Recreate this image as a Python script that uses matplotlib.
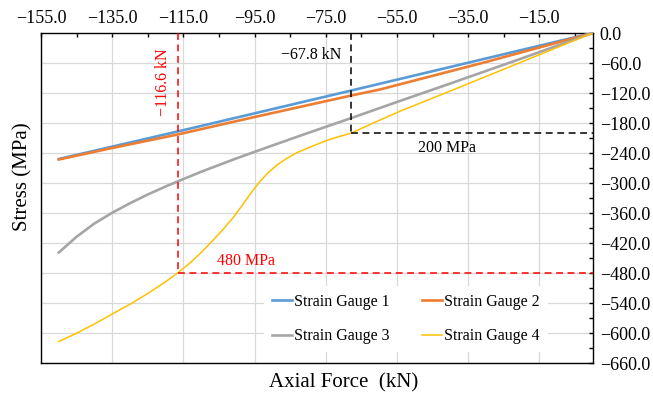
import numpy as np
import matplotlib
matplotlib.use("Agg")
import matplotlib.pyplot as plt
from matplotlib.ticker import MultipleLocator, FuncFormatter

plt.rcParams['font.family'] = ['Liberation Serif', 'DejaVu Serif']

# axial force (kN) and stress (MPa) for each gauge
force_1 = [-150.0, -116.6, -67.8, -30.0, 0.0]
stress_1 = [-252, -197, -115, -51, 0]

force_2 = [-150.0, -135.0, -116.6, -95.0, -67.8, -59.8, -30.0, 0.0]
stress_2 = [-253, -230, -203, -168, -125, -113, -58, 0]

force_3 = [-150.0, -145.0, -140.0, -135.0, -130.0, -125.0, -120.0, -117.0,
           -110.0, -100.0, -90.0, -80.0, -67.8, -54.0, -40.0, -20.0, 0.0]
stress_3 = [-439, -407.5, -381, -359.5, -340.5, -323, -307, -298,
            -277.5, -250.5, -225, -200, -170, -135.5, -101, -51, 0]

force_4 = [-150.0, -145.0, -140.0, -135.0, -130.0, -125.0, -120.0, -116.6,
           -113.0, -110.0, -107.0, -104.0, -101.0, -98.5, -96.0, -93.5,
           -91.0, -88.5, -86.0, -83.0, -79.0, -74.0, -67.8, -61.0, -54.0,
           -47.0, -40.0, -30.0, -20.0, -10.0, 0.0]
stress_4 = [-617, -600.5, -582, -562, -542.5, -521, -497.5, -480,
            -459, -439, -417, -394, -369, -345, -320, -297,
            -278, -263, -251, -239, -227, -213, -200, -178, -156,
            -136, -116, -87, -58, -29, 0]

labels = ['Strain Gauge 1', 'Strain Gauge 2', 'Strain Gauge 3', 'Strain Gauge 4']
colors = ['#5B9BD5', '#ED7D31', '#A5A5A5', '#FFC000']
widths = [1.9, 1.9, 1.9, 1.1]

# marked points
red_force, red_stress = -116.6, -480
blk_force, blk_stress = -67.8, -200

fig = plt.figure(figsize=(6.53, 3.95), dpi=100)
ax = fig.add_axes([41 / 653, 1 - 363 / 395, 551.7 / 653, 330 / 395])

handles = []
for f, s, c, w, lab in zip([force_1, force_2, force_3, force_4],
                           [stress_1, stress_2, stress_3, stress_4],
                           colors, widths, labels):
    h, = ax.plot(f, s, color=c, lw=w, label=lab, solid_joinstyle='round', zorder=3)
    handles.append(h)

dash = (0, (4.5, 3))
ax.plot([red_force, red_force], [0, red_stress], color='#FF0000', lw=1.1, ls=dash, zorder=4)
ax.plot([red_force, 0], [red_stress, red_stress], color='#FF0000', lw=1.1, ls=dash, zorder=4)
ax.plot([blk_force, blk_force], [0, blk_stress], color='black', lw=1.1, ls=dash, zorder=4)
ax.plot([blk_force, 0], [blk_stress, blk_stress], color='black', lw=1.1, ls=dash, zorder=4)

ax.text(-120.8, -99, '\u2212116.6 kN', color='#FF0000', fontsize=11.5,
        rotation=90, ha='center', va='center')
ax.text(-70.6, -44, '\u221267.8 kN', color='black', fontsize=11.5,
        ha='right', va='center')
ax.text(-40.8, -230, '200 MPa', color='black', fontsize=11.5,
        ha='center', va='center')
ax.text(-97.4, -456, '480 MPa', color='#FF0000', fontsize=11.5,
        ha='center', va='center')


def fmt(v, pos):
    if abs(v) < 1e-9:
        v = 0.0
    return f"{v:.1f}".replace('-', '\u2212')


ax.set_xticks(np.arange(-155, 0, 20))
ax.xaxis.set_minor_locator(MultipleLocator(10, offset=5))
ax.yaxis.set_major_locator(MultipleLocator(60))
ax.yaxis.set_minor_locator(MultipleLocator(30))
ax.xaxis.set_major_formatter(FuncFormatter(fmt))
ax.yaxis.set_major_formatter(FuncFormatter(fmt))
ax.set_xlim(-155, 0)
ax.set_ylim(-660, 0)

ax.xaxis.tick_top()
ax.yaxis.tick_right()
ax.tick_params(axis='both', which='both', direction='in', width=1.0,
               length=3, color='black', labelsize=13)
ax.tick_params(axis='x', which='major', pad=4)
ax.tick_params(axis='y', which='major', pad=5)

ax.grid(True, which='major', color='#D9D9D9', lw=0.9, zorder=0)
ax.set_axisbelow(True)
for sp in ax.spines.values():
    sp.set_linewidth(1.0)
    sp.set_color('black')

# two rows: gauges 1 & 2 on top, 3 & 4 below
order = [0, 2, 1, 3]
leg = ax.legend([handles[i] for i in order], [labels[i] for i in order],
                loc='center', bbox_to_anchor=(0.661, 0.133), ncol=2,
                fontsize=11.5, frameon=True, handlelength=1.3,
                handletextpad=0.1, columnspacing=2.0, labelspacing=1.15,
                borderpad=0.5, fancybox=False)
leg.get_frame().set_facecolor('white')
leg.get_frame().set_edgecolor('none')
leg.get_frame().set_alpha(1.0)
leg.set_zorder(5)

fig.text(344 / 653, 1 - 383 / 395, 'Axial Force  (kN)', fontsize=15,
         ha='center', va='center')
fig.text(23 / 653, 1 - 177 / 395, 'Stress (MPa)', fontsize=15,
         rotation=90, ha='center', va='center')

fig.savefig('out.png', dpi=100)
